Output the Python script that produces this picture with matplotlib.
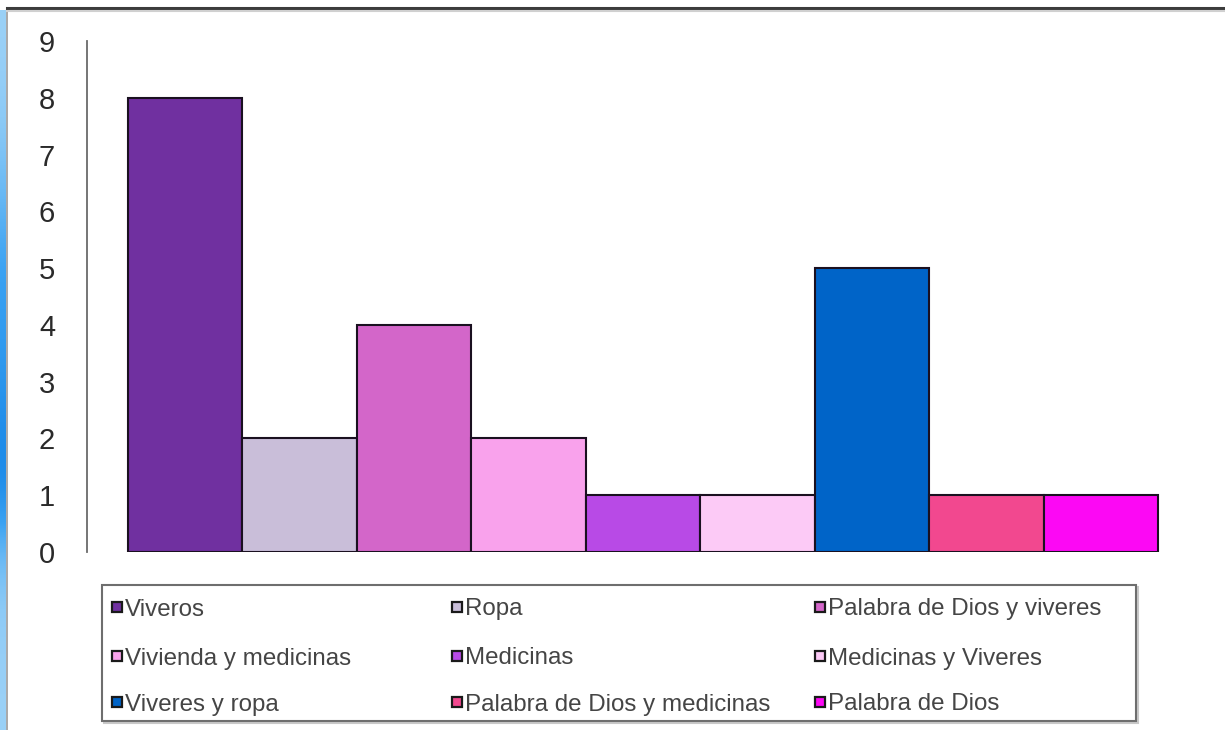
import numpy as np
import matplotlib
matplotlib.use("Agg")
import matplotlib.pyplot as plt
from matplotlib.patches import Rectangle
from matplotlib.colors import LinearSegmentedColormap

# Categories, counts and bar colours
categories = [
    "Viveros", "Ropa", "Palabra de Dios y viveres",
    "Vivienda y medicinas", "Medicinas", "Medicinas y Viveres",
    "Viveres y ropa", "Palabra de Dios y medicinas", "Palabra de Dios",
]
counts = [8, 2, 4, 2, 1, 1, 5, 1, 1]
colors = ["#7030A0", "#C9BED9", "#D366C9", "#F9A2EC", "#B84AE6",
          "#FCCAF6", "#0064C8", "#F2488F", "#FC08F4"]
yticks = list(range(0, 10))

W, H = 1225, 730
plt.rcParams["font.family"] = ["Liberation Sans", "DejaVu Sans"]
fig = plt.figure(figsize=(W / 100, H / 100), dpi=100)
fig.patch.set_facecolor("white")

# Blue window strip and frame along the left/top edge
strip = fig.add_axes([0, 0, 6 / W, 1 - 10 / H])
strip_cmap = LinearSegmentedColormap.from_list(
    "strip", ["#1585e6", "#3aa2f2", "#8ccaf6", "#c4e4fa"])
grad = np.array([[0.75], [0.70], [0.62], [0.50], [0.35], [0.28], [0.22],
                 [0.10], [0.05], [0.45], [0.65], [0.72], [0.75]])
strip.imshow(grad[::-1], aspect="auto", cmap=strip_cmap, vmin=0.0, vmax=1.0,
             extent=[0, 1, 0, 1], interpolation="bicubic", origin="lower")
strip.axis("off")
fig.add_artist(plt.Line2D([7 / W, 7 / W], [0, 1 - 8 / H], color="#9a9a9a",
                          lw=1.2, transform=fig.transFigure))
fig.add_artist(plt.Line2D([7 / W, 1], [1 - 8 / H, 1 - 8 / H], color="#3c3c3c",
                          lw=2.2, transform=fig.transFigure))
fig.add_artist(plt.Line2D([7 / W, 1], [1 - 11 / H, 1 - 11 / H], color="#d0d0d0",
                          lw=1.5, transform=fig.transFigure))

# Plot area
left, right = 87 / W, 1199 / W
bottom, top = 1 - 552 / H, 1 - 41 / H
ax = fig.add_axes([left, bottom, right - left, top - bottom])
ax.set_facecolor("none")

x = np.arange(len(categories))
ax.bar(x, counts, width=1.0, color=colors, edgecolor="#1a1020", linewidth=1.5,
       zorder=3)

ax.set_ylim(0, 9)
ax.set_xlim(-0.858, len(categories) - 1 + 0.858)
ax.set_yticks(yticks)
ax.set_yticklabels([str(v) for v in yticks], fontsize=21, color="#2a2a2a")
ax.tick_params(axis="y", length=0, pad=23)
ax.set_xticks([])
for s in ["top", "right", "bottom"]:
    ax.spines[s].set_visible(False)
ax.spines["left"].set_color("#6a6a6a")
ax.spines["left"].set_linewidth(1.3)

# Legend box: three columns filled row by row
box_l, box_r, box_t, box_b = 102, 1136, 585, 721
fig.add_artist(Rectangle((box_l / W + 2 / W, 1 - (box_b + 2) / H),
                         (box_r - box_l) / W, (box_b - box_t) / H,
                         transform=fig.transFigure, facecolor="none",
                         edgecolor="#c8c8c8", lw=1.5))
fig.add_artist(Rectangle((box_l / W, 1 - box_b / H),
                         (box_r - box_l) / W, (box_b - box_t) / H,
                         transform=fig.transFigure, facecolor="white",
                         edgecolor="#6e6e6e", lw=1.5))
col_x = [112, 452, 815]
row_y = [607, 656, 702]
sq = 10
for i, (name, c) in enumerate(zip(categories, colors)):
    r, k = divmod(i, 3)
    hx, hy = col_x[k], row_y[r]
    fig.add_artist(Rectangle((hx / W, 1 - (hy + sq / 2) / H), sq / W, sq / H,
                             transform=fig.transFigure, facecolor=c,
                             edgecolor="#1a1a1a", lw=1.6))
    fig.text((hx + sq + 3) / W, 1 - hy / H, name, fontsize=17.4,
             color="#454545", ha="left", va="center_baseline")

fig.savefig("out.png", dpi=100, facecolor="white")
